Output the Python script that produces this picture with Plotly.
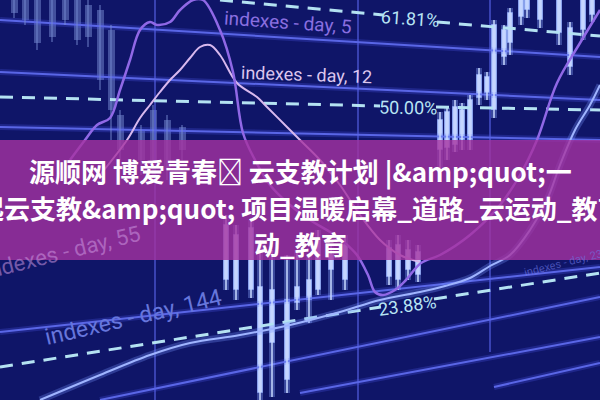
import plotly.graph_objects as go

# ---------------- data ----------------
TITLE_LINES = [
    "源顺网 博爱青春\ue000 云支教计划 |&amp;quot;一",
    "起云支教&amp;quot; 项目温暖启幕_道路_云运动_教育",
    "动_教育",
]
TITLE_Y = [171, 207, 243]
BAND_Y = [140, 260]

# slanted solid screen lines (x pairs, y pairs)
LINE_X0 = [0, 0, 0, 0, 100, 300, 494]
LINE_X1 = [600, 600, 600, 600, 600, 600, 600]
LINE_Y0 = [20, 72, 127, 332, 400, 393, 387]
LINE_Y1 = [57, 100, 140, 267, 297, 337, 363]

VLINE_X = [155, 358, 490]
VLINE_BOTTOM = [400, 400, 352]

# fibonacci dashed levels
FIB_LABELS = ["61.81%", "50.00%", "23.88%"]
FIB_LABEL_X = [410, 408, 407]
FIB_LABEL_Y = [18, 107, 305]
FIB_LABEL_ANGLE = [4, 1, -8]
FIB61_X = [220, 383, None, 437, 600]
FIB61_Y = [0, 15, None, 22, 36]
FIB50_X = [0, 380, None, 436, 600]
FIB50_Y = [97, 106, None, 107, 110]
FIB23_X = [0, 381, None, 434, 600]
FIB23_Y = [367, 307, None, 299, 273]

# moving-average curves
DAY5_X = [70, 85, 97, 110, 120, 130, 140, 150, 157, 170, 180, 193, 203, 220, 233, 243, 255, 270, 290,
          310, 330, 345, 357, 368, 375, 383, 395, 406, 421, 440, 470, 500, 520, 537, 557, 580, 600]
DAY5_Y = [160, 140, 125, 118, 90, 60, 30, 22, 25, 22, 10, 0, 0, 30, 72, 133, 160, 185, 205,
          220, 232, 243, 255, 275, 292, 295, 290, 280, 263, 255, 235, 205, 175, 140, 83, 43, 10]
DAY12_X = [100, 127, 140, 150, 160, 170, 180, 190, 200, 210, 220, 237, 257, 267, 287, 300, 320, 340,
           360, 380, 400, 420]
DAY12_Y = [175, 140, 118, 105, 92, 80, 70, 58, 47, 45, 55, 83, 97, 107, 127, 140, 160, 185,
           215, 240, 255, 262]
DAY144_X = [40, 100, 150, 190, 240, 290, 340, 380, 420, 445, 470, 490, 510, 530, 547, 560, 575, 590, 600]
DAY144_Y = [400, 375, 355, 343, 335, 325, 312, 300, 292, 286, 278, 266, 255, 230, 200, 165, 130, 105, 85]

# candlesticks: bright right cluster + middle cluster
CANDLE_X = [440, 447, 455, 462, 470, 479, 487, 494, 504, 510, 521, 527, 540, 559, 570, 583, 592,
            226, 236, 251, 260, 272, 287, 297, 309, 318, 331, 345, 389, 398, 408, 418]
CANDLE_HI = [112, 108, 100, 103, 95, 68, 72, 20, 25, 8, 0, 0, 0, 0, 22, 0, 0,
             215, 225, 220, 240, 250, 255, 250, 255, 230, 245, 235, 240, 235, 240, 245]
CANDLE_TOP = [120, 112, 107, 110, 100, 75, 77, 25, 30, 13, 0, 0, 0, 0, 28, 0, 0,
              225, 235, 228, 287, 290, 300, 287, 280, 240, 255, 245, 248, 245, 250, 252]
CANDLE_BOT = [150, 148, 145, 140, 140, 98, 93, 110, 57, 43, 17, 10, 20, 33, 67, 30, 15,
              280, 290, 290, 393, 343, 380, 303, 300, 290, 270, 280, 277, 280, 270, 275]
CANDLE_LO = [168, 160, 152, 150, 150, 105, 100, 118, 65, 55, 25, 18, 28, 45, 75, 40, 22,
             290, 300, 298, 400, 397, 393, 310, 323, 295, 300, 290, 285, 290, 280, 282]

# faded candles, upper left
FADED_X = [14, 25, 37, 52, 65, 77, 88, 100, 111, 120, 141, 153, 167, 182]
FADED_HI = [0, 0, 0, 0, 0, 0, 0, 5, 25, 110, 125, 105, 115, 125]
FADED_TOP = [0, 0, 0, 0, 0, 0, 5, 10, 30, 115, 130, 110, 120, 127]
FADED_BOT = [13, 20, 43, 37, 20, 40, 37, 80, 110, 150, 160, 165, 170, 150]
FADED_LO = [18, 25, 50, 42, 25, 45, 47, 90, 140, 160, 175, 175, 180, 160]

LABEL_TEXT = ["indexes - day, 5", "indexes - day, 12", "indexes - day, 55",
              "indexes - day, 144", "indexes - day, 233"]
LABEL_X = [288, 306, 62, 133, 566]
LABEL_Y = [22, 74, 252, 317, 262]
LABEL_ANGLE = [4, 2, -14, -13, -14]
LABEL_SIZE = [19, 18, 22, 23, 11]
LABEL_COLOR = ["#8a6fe0", "#dcc6ee", "rgba(205,150,225,0.55)", "#6676dc", "rgba(110,120,230,0.6)"]

# ---------------- figure ----------------
fig = go.Figure()


def seg(xs0, xs1, ys0, ys1):
    xs, ys = [], []
    for a, b, c, d in zip(xs0, xs1, ys0, ys1):
        xs += [a, b, None]
        ys += [c, d, None]
    return xs, ys


# vertical grid
vx, vy = seg(VLINE_X, VLINE_X, [0] * len(VLINE_X), VLINE_BOTTOM)
fig.add_trace(go.Scatter(x=vx, y=vy, mode="lines", line=dict(color="rgba(90,100,235,0.75)", width=1.5)))

# slanted lines (glow + core)
lx, ly = seg(LINE_X0, LINE_X1, LINE_Y0, LINE_Y1)
fig.add_trace(go.Scatter(x=lx, y=ly, mode="lines", line=dict(color="rgba(80,90,240,0.25)", width=6)))
fig.add_trace(go.Scatter(x=lx, y=ly, mode="lines", line=dict(color="#5a66e6", width=2)))

# faded candles
fwx, fwy = seg(FADED_X, FADED_X, FADED_HI, FADED_LO)
fig.add_trace(go.Scatter(x=fwx, y=fwy, mode="lines", line=dict(color="rgba(120,140,210,0.45)", width=2)))
fig.add_trace(go.Bar(x=FADED_X, base=FADED_TOP, y=[b - t for t, b in zip(FADED_TOP, FADED_BOT)],
                     width=7, marker=dict(color="rgba(120,140,210,0.5)", line=dict(width=0))))

# bright candles
cwx, cwy = seg(CANDLE_X, CANDLE_X, CANDLE_HI, CANDLE_LO)
fig.add_trace(go.Scatter(x=cwx, y=cwy, mode="lines", line=dict(color="rgba(140,170,255,0.35)", width=6)))
fig.add_trace(go.Scatter(x=cwx, y=cwy, mode="lines", line=dict(color="#c8d8ff", width=1.5)))
fig.add_trace(go.Bar(x=CANDLE_X, base=CANDLE_TOP, y=[b - t for t, b in zip(CANDLE_TOP, CANDLE_BOT)],
                     width=5, marker=dict(color="#d6e2ff", line=dict(width=1, color="rgba(150,180,255,0.6)"))))

# fibonacci dashed lines
for fx, fy in [(FIB61_X, FIB61_Y), (FIB50_X, FIB50_Y), (FIB23_X, FIB23_Y)]:
    fig.add_trace(go.Scatter(x=fx, y=fy, mode="lines",
                             line=dict(color="#b4e2f2", width=3, dash="13px,9px")))

# curves
fig.add_trace(go.Scatter(x=DAY144_X, y=DAY144_Y, mode="lines", line=dict(color="rgba(120,150,255,0.3)", width=7, shape="spline")))
fig.add_trace(go.Scatter(x=DAY144_X, y=DAY144_Y, mode="lines", line=dict(color="#9fb4ff", width=2, shape="spline")))
fig.add_trace(go.Scatter(x=DAY12_X, y=DAY12_Y, mode="lines", line=dict(color="#d8b8ee", width=2, shape="spline")))
fig.add_trace(go.Scatter(x=DAY5_X, y=DAY5_Y, mode="lines", line=dict(color="#9068e6", width=2.5, shape="spline")))

# pink/magenta band
fig.add_shape(type="rect", xref="paper", x0=0, x1=1, yref="y", y0=BAND_Y[0], y1=BAND_Y[1],
              fillcolor="rgba(165,50,160,0.8)", line=dict(width=0), layer="above")

annotations = []
for t, x, y, a, s, c in zip(LABEL_TEXT, LABEL_X, LABEL_Y, LABEL_ANGLE, LABEL_SIZE, LABEL_COLOR):
    annotations.append(dict(x=x, y=y, xref="x", yref="y", text=t, showarrow=False, textangle=a,
                            font=dict(family="Roboto, Liberation Sans, sans-serif", size=s, color=c)))
for t, x, y, a in zip(FIB_LABELS, FIB_LABEL_X, FIB_LABEL_Y, FIB_LABEL_ANGLE):
    annotations.append(dict(x=x, y=y, xref="x", yref="y", text=t, showarrow=False, textangle=a,
                            font=dict(family="Roboto, Liberation Sans, sans-serif", size=18, color="#b8e4f4")))
for t, y in zip(TITLE_LINES, TITLE_Y):
    annotations.append(dict(x=300, y=y, xref="x", yref="y", text="<b>" + t.replace("&", "&amp;") + "</b>",
                            showarrow=False, xanchor="center", yanchor="middle",
                            font=dict(family="Noto Sans CJK SC, sans-serif", size=26, color="white")))

fig.update_layout(
    width=600, height=400,
    margin=dict(l=0, r=0, t=0, b=0),
    paper_bgcolor="#0d1262", plot_bgcolor="#0f1568",
    showlegend=False, bargap=0, barmode="overlay",
    xaxis=dict(range=[0, 600], visible=False, fixedrange=True),
    yaxis=dict(range=[400, 0], visible=False, fixedrange=True),
    annotations=annotations,
    hovermode=False,
)

fig.write_html("out.html", config={"displayModeBar": False},
               post_script="document.body.style.margin='0';document.body.style.overflow='hidden';")
